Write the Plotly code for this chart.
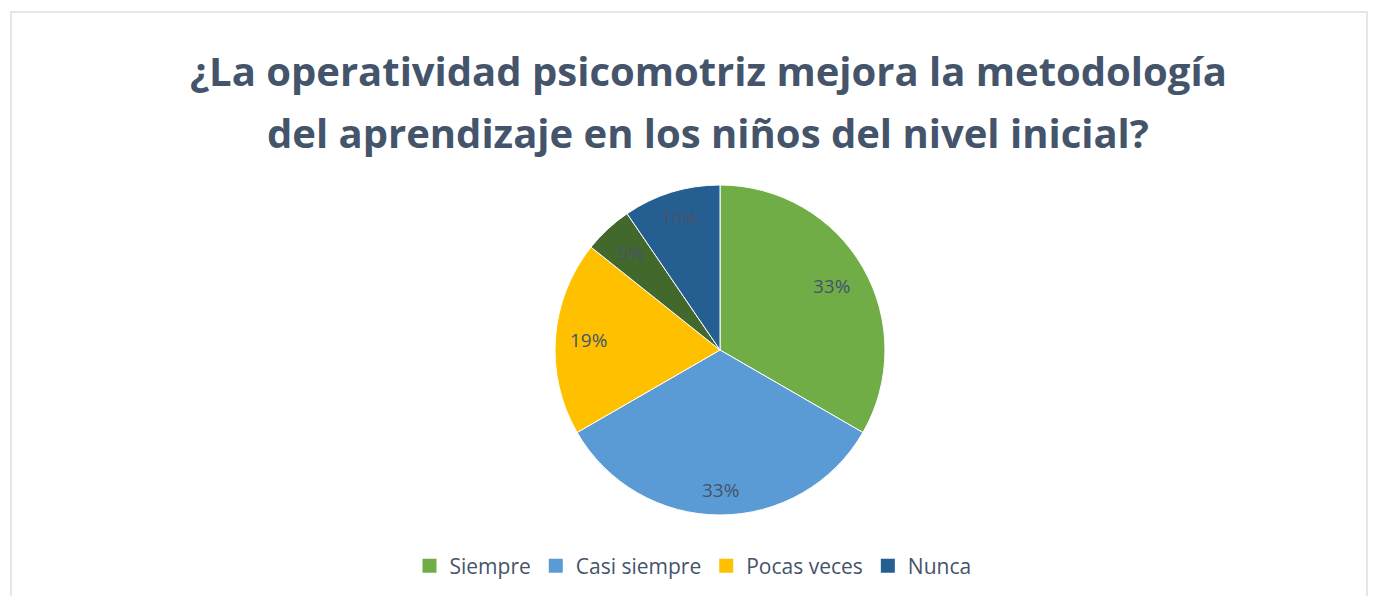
import math
import plotly.graph_objects as go

labels = ["Siempre", "Casi siempre", "Pocas veces", "", "Nunca"]
values = [7, 7, 4, 1, 2]
colors = ["#70AD47", "#5B9BD5", "#FFC000", "#43682B", "#255E91"]
legend_labels = ["Siempre", "Casi siempre", "Pocas veces", "Nunca"]
legend_colors = ["#70AD47", "#5B9BD5", "#FFC000", "#255E91"]
title_lines = ["¿La operatividad psicomotriz mejora la metodología",
               "del aprendizaje en los niños del nivel inicial?"]

W, H = 1374, 596
cx, cy, r = 720, 350, 165
label_frac = [0.78, 0.85, 0.8, 0.8, 0.84]

fig = go.Figure()
fig.add_trace(go.Pie(
    labels=labels, values=values, sort=False, direction="clockwise", rotation=0,
    marker=dict(colors=colors, line=dict(color="white", width=1)),
    textinfo="none", showlegend=False, hoverinfo="label+percent",
    domain=dict(x=[(cx - r) / W, (cx + r) / W], y=[1 - (cy + r) / H, 1 - (cy - r) / H]),
))
for lab, col in zip(legend_labels, legend_colors):
    fig.add_trace(go.Scatter(x=[None], y=[None], mode="markers", name=lab,
                             marker=dict(symbol="square", size=14, color=col)))

# percentage labels placed at each slice's mid-angle
total = sum(values)
annotations = []
cum = 0
for v, f in zip(values, label_frac):
    mid = (cum + v / 2) / total * 2 * math.pi
    cum += v
    px = cx + f * r * math.sin(mid)
    py = cy - f * r * math.cos(mid)
    annotations.append(dict(x=px / W, y=1 - py / H, xref="paper", yref="paper",
                            xanchor="center", yanchor="middle",
                            text=f"{round(100 * v / total)}%", showarrow=False,
                            font=dict(family="Open Sans", size=19, color="#44546A")))
for i, (line, ty) in enumerate(zip(title_lines, [70, 132])):
    annotations.append(dict(x=708 / W, y=1 - ty / H, xref="paper", yref="paper",
                            text=f"<b>{line}</b>", showarrow=False,
                            xanchor="center", yanchor="middle",
                            font=dict(family="Open Sans", size=40, color="#44546A")))

fig.update_layout(
    width=W, height=H, margin=dict(l=0, r=0, t=0, b=0, autoexpand=False),
    paper_bgcolor="white", plot_bgcolor="white",
    xaxis=dict(visible=False), yaxis=dict(visible=False),
    annotations=annotations,
    legend=dict(orientation="h", x=693 / W, xanchor="center", y=1 - 566 / H, yanchor="middle",
                font=dict(family="Open Sans", size=21, color="#44546A"), itemwidth=30,
                bgcolor="rgba(0,0,0,0)"),
    shapes=[dict(type="rect", xref="paper", yref="paper", x0=11 / W, x1=1367 / W,
                 y0=-0.05, y1=1 - 12 / H, line=dict(color="#D9DEE8", width=1.5))],
)
fig.write_html("out.html", config={"displayModeBar": False},
               post_script="document.body.style.margin='0';document.body.style.overflow='hidden';")
